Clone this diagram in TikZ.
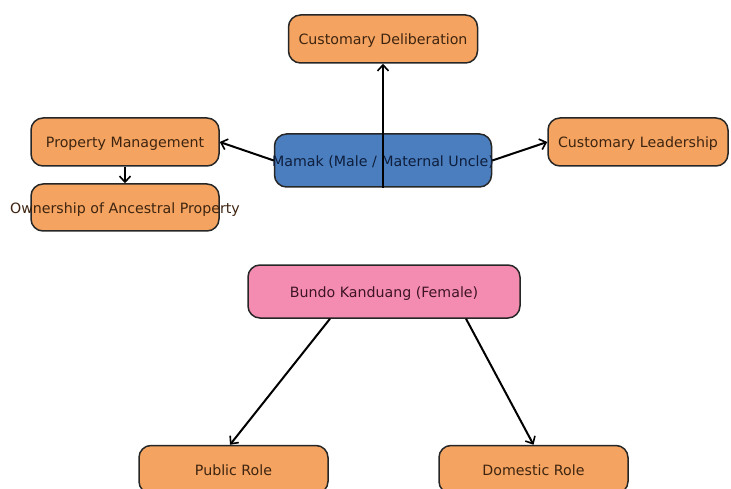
\documentclass[tikz,border=0pt]{standalone}
\usepackage{fontspec}
\setmainfont{DejaVu Sans}
\usetikzlibrary{arrows.meta}
\definecolor{boxorange}{HTML}{F4A460}
\definecolor{boxblue}{HTML}{4A7EBF}
\definecolor{boxpink}{HTML}{F48CB1}
\definecolor{txtorange}{HTML}{3E2410}
\definecolor{txtblue}{HTML}{0E1E3C}
\definecolor{txtpink}{HTML}{3E1424}
\tikzset{
  rbox/.style={draw=black!85, line width=1.5pt, rounded corners=12pt, inner sep=0pt,
    font=\fontsize{14.2}{17}\selectfont, align=center, text depth=0pt, text height=0pt},
  obox/.style={rbox, fill=boxorange, text=txtorange},
  bbox/.style={rbox, fill=boxblue, text=txtblue},
  pbox/.style={rbox, fill=boxpink, text=txtpink},
  conn/.style={draw=black, line width=2pt, -{Straight Barb[length=6pt,width=11pt,line width=1.6pt]}}
}
\newcommand{\bt}[1]{\raisebox{-6pt}[0pt][0pt]{\makebox[0pt]{#1}}}
\begin{document}
\begin{tikzpicture}[x=1pt,y=-1pt]
\useasboundingbox (0,0) rectangle (731,489);
\clip (0,0) rectangle (731,489);
\node[obox, minimum width=189pt, minimum height=48pt] (delib) at (383,39) {\bt{Customary Deliberation}};
\node[bbox, minimum width=217pt, minimum height=53pt] (mamak) at (383,160.5) {\bt{Mamak (Male / Maternal Uncle)}};
\node[obox, minimum width=188pt, minimum height=48pt] (propm) at (125,142) {\bt{Property Management}};
\node[obox, minimum width=188pt, minimum height=47pt] (owner) at (125,207.5) {\bt{Ownership of Ancestral Property}};
\node[obox, minimum width=180pt, minimum height=48pt] (leader) at (638,142) {\bt{Customary Leadership}};
\node[pbox, minimum width=272pt, minimum height=53pt] (bundo) at (384,291.5) {\bt{Bundo Kanduang (Female)}};
\node[obox, minimum width=189pt, minimum height=48pt] (public) at (233.5,469.5) {\bt{Public Role}};
\node[obox, minimum width=189pt, minimum height=48pt] (domestic) at (533.5,469.5) {\bt{Domestic Role}};

\draw[conn] (mamak.south) -- (delib.south);
\draw[conn] (mamak.west) -- (propm.east);
\draw[conn] (mamak.east) -- (leader.west);
\draw[conn] (propm.south) -- (owner.north);
\draw[conn] ([xshift=-54pt]bundo.south) -- ([xshift=-3.5pt]public.north);
\draw[conn] ([xshift=82pt]bundo.south) -- (domestic.north);
\end{tikzpicture}
\end{document}
